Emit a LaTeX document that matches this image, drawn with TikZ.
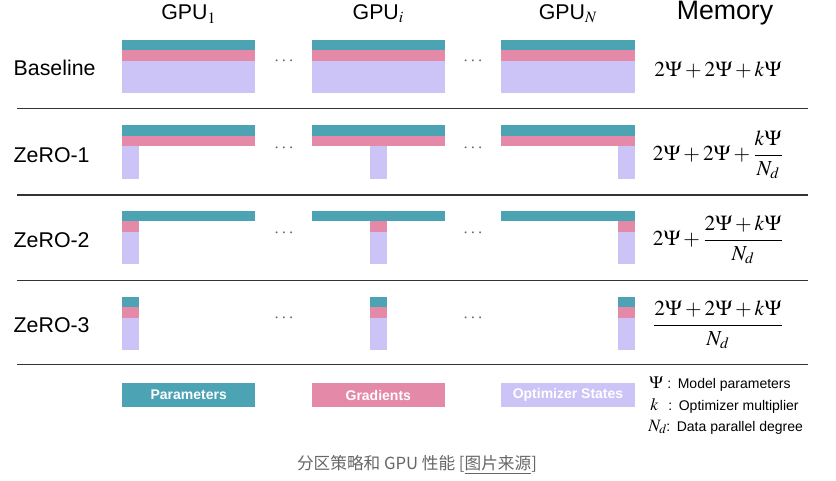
\documentclass[tikz,border=0pt]{standalone}
\usepackage{mathptmx}
\usepackage[no-math]{fontspec}
\setmainfont{Liberation Sans}
\newfontfamily\cjk{Noto Sans CJK SC}
\definecolor{paramc}{RGB}{75,163,180}
\definecolor{gradc}{RGB}{229,137,168}
\definecolor{optimc}{RGB}{204,195,247}
\tikzset{
	param/.style={fill=paramc},
	grad/.style={fill=gradc},
	optim/.style={fill=optimc},
	rowlabel/.style={anchor=west, font=\fontsize{16}{19}\selectfont},
	gpulabel/.style={font=\fontsize{16}{19}\selectfont},
	memory/.style={font=\fontsize{16}{19}\selectfont},
	dots/.style={text=black!60, font=\fontsize{14}{16}\selectfont},
	legbox/.style={minimum width=100pt, minimum height=18pt, inner sep=0pt,
		text=white, font=\fontsize{10.5}{12}\selectfont\bfseries},
	legkey/.style={anchor=west, font=\fontsize{10.5}{12}\selectfont, inner sep=0pt}
}
\newcommand{\keysym}[1]{\makebox[13.5pt][l]{\fontsize{13}{13}\selectfont#1}}
\begin{document}
\begin{tikzpicture}[x=0.75pt, y=-0.75pt]
	\useasboundingbox (0,0) rectangle (836,480);
	% headers
	\node[gpulabel] (gpu1) at (188.7,14) {GPU$_{1}$};
	\node[gpulabel] (gpui) at (378.3,14) {GPU$_{i}$};
	\node[gpulabel] (gpun) at (568,14) {GPU$_{N}$};
	\node[font=\fontsize{20}{23}\selectfont] (mem) at (725,13) {Memory};
	% blocks
	\foreach \x/\o in {122/0,311.7/58.3,501.3/116.7}{
		% Baseline
		\fill[param] (\x,39.5) rectangle +(133.3,10.7);
		\fill[grad] (\x,50.2) rectangle +(133.3,10.7);
		\fill[optim] (\x,60.9) rectangle +(133.3,32.2);
		% ZeRO-1
		\fill[param] (\x,125) rectangle +(133.3,10.7);
		\fill[grad] (\x,135.7) rectangle +(133.3,10.7);
		\fill[optim] (\x+\o,146.4) rectangle +(16.7,32.2);
		% ZeRO-2
		\fill[param] (\x,210.7) rectangle +(133.3,10.7);
		\fill[grad] (\x+\o,221.4) rectangle +(16.7,10.7);
		\fill[optim] (\x+\o,232.1) rectangle +(16.7,32.2);
		% ZeRO-3
		\fill[param] (\x+\o,296.7) rectangle +(16.7,10.7);
		\fill[grad] (\x+\o,307.4) rectangle +(16.7,10.7);
		\fill[optim] (\x+\o,318.1) rectangle +(16.7,32.2);
	}
	% rows
	\foreach \n/\y/\t in {base/68/Baseline,zo1/155/ZeRO-1,zo2/240/ZeRO-2,zo3/325/ZeRO-3}{
		\node[rowlabel] (\n) at (9,\y) {\t};
		\node[dots] (\n-d1) at (284,\y-7) {$\cdots$};
		\node[dots] (\n-d2) at (473,\y-7) {$\cdots$};
	}
	\foreach \y in {108.7,195,280.7,364.3}{
		\draw[black!80, line width=0.8pt] (17,\y) -- (808,\y);
	}
	% memory
	\node[memory] (mem0) at (718,70) {$2\Psi+2\Psi+k\Psi$};
	\node[memory] (mem1) at (718,155) {$\displaystyle 2\Psi+2\Psi+\frac{k\Psi}{N_d}$};
	\node[memory] (mem2) at (718,240) {$\displaystyle 2\Psi+\frac{2\Psi+k\Psi}{N_d}$};
	\node[memory] (mem3) at (718,325) {$\displaystyle \frac{2\Psi+2\Psi+k\Psi}{N_d}$};
	% legend
	\node[legbox, param] (lpar) at (188.7,395) {Parameters};
	\node[legbox, grad] (lgrad) at (378.3,395) {Gradients};
	\node[legbox, optim] (lopt) at (568,395) {Optimizer States};
	\node[legkey] (kpsi) at (649,384) {\keysym{$\Psi$}:\hspace{5pt}Model parameters};
	\node[legkey] (kk) at (650,406) {\keysym{$k$}:\hspace{5pt}Optimizer multiplier};
	\node[legkey] (knd) at (648,427) {\keysym{$N_d$}:\hspace{5pt}Data parallel degree};
	% caption
	\node[text=black!60, font=\cjk\fontsize{12.5}{15}\selectfont] (cap) at (417,465)
		{分区策略和 GPU 性能 [\underline{图片来源}]};
\end{tikzpicture}
\end{document}
